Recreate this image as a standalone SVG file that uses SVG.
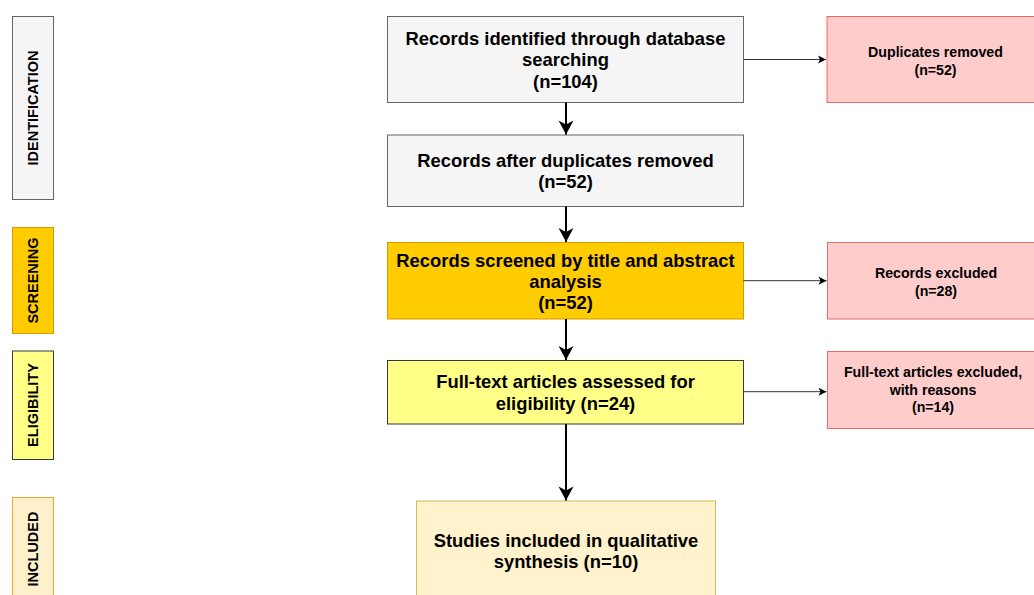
<svg xmlns="http://www.w3.org/2000/svg" width="1034" height="595" viewBox="0 0 1034 595">
  <style>
    text { font-family: "Liberation Sans", Arial, Helvetica, sans-serif; font-weight: bold; fill: #000; text-anchor: middle; }
    .main { font-size: 18.4px; }
    .side { font-size: 14.5px; }
    .right { font-size: 14.2px; }
    .grey { fill: #f5f5f5; stroke: #666666; stroke-width: 1; }
    .orange { fill: #ffcc00; stroke: #d79b00; stroke-width: 1; }
    .yellow { fill: #ffff88; stroke: #36393d; stroke-width: 1; }
    .cream { fill: #fff2cc; stroke: #d6b656; stroke-width: 1; }
    .cream2 { fill: #fff0cc; stroke: #f0a830; stroke-width: 1; }
    .red { fill: #ffcccc; stroke: #ea6b66; stroke-width: 1; }
    .thick { stroke: #000; stroke-width: 2; fill: none; }
    .thin { stroke: #333; stroke-width: 1; fill: none; }
  </style>
  <defs>
    <marker id="bigArrow" markerUnits="userSpaceOnUse" markerWidth="18" markerHeight="18" viewBox="0 0 18 18" refX="16" refY="9" orient="auto">
      <path d="M2,1.5 L16,9 L2,16.5 L6,9 Z" fill="#000"/>
    </marker>
    <marker id="smallArrow" markerUnits="userSpaceOnUse" markerWidth="10" markerHeight="10" viewBox="0 0 10 10" refX="9" refY="5" orient="auto">
      <path d="M1,1 L9,5 L1,9 L3,5 Z" fill="#000"/>
    </marker>
  </defs>

  <g id="phase-identification">
    <rect class="grey" x="12.5" y="16.5" width="41" height="183"/>
    <text class="side" transform="translate(33,108) rotate(-90)" y="5.2">IDENTIFICATION</text>
  </g>
  <g id="phase-screening">
    <rect class="orange" x="12.5" y="227.5" width="41" height="106"/>
    <text class="side" transform="translate(33,280.5) rotate(-90)" y="5.2">SCREENING</text>
  </g>
  <g id="phase-eligibility">
    <rect class="yellow" x="12.5" y="351" width="41" height="108.5"/>
    <text class="side" transform="translate(33,405) rotate(-90)" y="5.2">ELIGIBILITY</text>
  </g>
  <g id="phase-included">
    <rect class="cream2" x="12.5" y="497.5" width="41" height="103"/>
    <text class="side" transform="translate(33,549) rotate(-90)" y="5.2">INCLUDED</text>
  </g>

  <g id="records-identified">
    <rect class="grey" x="387.5" y="16.5" width="356" height="86"/>
    <text class="main"><tspan x="565.5" y="44.5">Records identified through database</tspan><tspan x="565.5" y="66">searching</tspan><tspan x="565.5" y="87.5">(n=104)</tspan></text>
  </g>
  <g id="records-after-duplicates">
    <rect class="grey" x="387.5" y="135" width="356" height="71.5"/>
    <text class="main"><tspan x="565.5" y="166.7">Records after duplicates removed</tspan><tspan x="565.5" y="188.2">(n=52)</tspan></text>
  </g>
  <g id="records-screened">
    <rect class="orange" x="387.5" y="242.5" width="356" height="76.5"/>
    <text class="main"><tspan x="565.5" y="266.5">Records screened by title and abstract</tspan><tspan x="565.5" y="287.5">analysis</tspan><tspan x="565.5" y="309">(n=52)</tspan></text>
  </g>
  <g id="full-text-assessed">
    <rect class="yellow" x="387.5" y="360.5" width="356" height="63.5"/>
    <text class="main"><tspan x="565.5" y="388.3">Full-text articles assessed for</tspan><tspan x="565.5" y="409.8">eligibility (n=24)</tspan></text>
  </g>
  <g id="studies-included">
    <rect class="cream" x="416.5" y="501" width="299" height="100"/>
    <text class="main"><tspan x="566" y="546.7">Studies included in qualitative</tspan><tspan x="566" y="567.5">synthesis (n=10)</tspan></text>
  </g>

  <g id="duplicates-removed">
    <rect class="red" x="827" y="16.5" width="216" height="86"/>
    <text class="right"><tspan x="935.5" y="57.3">Duplicates removed</tspan><tspan x="935.5" y="74.5">(n=52)</tspan></text>
  </g>
  <g id="records-excluded">
    <rect class="red" x="827.5" y="242.5" width="216" height="76.5"/>
    <text class="right"><tspan x="936" y="278.3">Records excluded</tspan><tspan x="936" y="295.7">(n=28)</tspan></text>
  </g>
  <g id="full-text-excluded">
    <rect class="red" x="827.5" y="351.5" width="216" height="77"/>
    <text class="right"><tspan x="933" y="377">Full-text articles excluded,</tspan><tspan x="933" y="394.6">with reasons</tspan><tspan x="933" y="412.4">(n=14)</tspan></text>
  </g>

  <g id="connectors">
    <line class="thick" x1="566" y1="102.5" x2="566" y2="134.5" marker-end="url(#bigArrow)"/>
    <line class="thick" x1="566" y1="206.5" x2="566" y2="242" marker-end="url(#bigArrow)"/>
    <line class="thick" x1="566" y1="319" x2="566" y2="360" marker-end="url(#bigArrow)"/>
    <line class="thick" x1="566" y1="424" x2="566" y2="500.5" marker-end="url(#bigArrow)"/>
    <line class="thin" x1="743.5" y1="59.5" x2="826" y2="59.5" marker-end="url(#smallArrow)"/>
    <line class="thin" x1="743.5" y1="280.7" x2="826.5" y2="280.7" marker-end="url(#smallArrow)"/>
    <line class="thin" x1="743.5" y1="391.7" x2="826.5" y2="391.7" marker-end="url(#smallArrow)"/>
  </g>
</svg>
